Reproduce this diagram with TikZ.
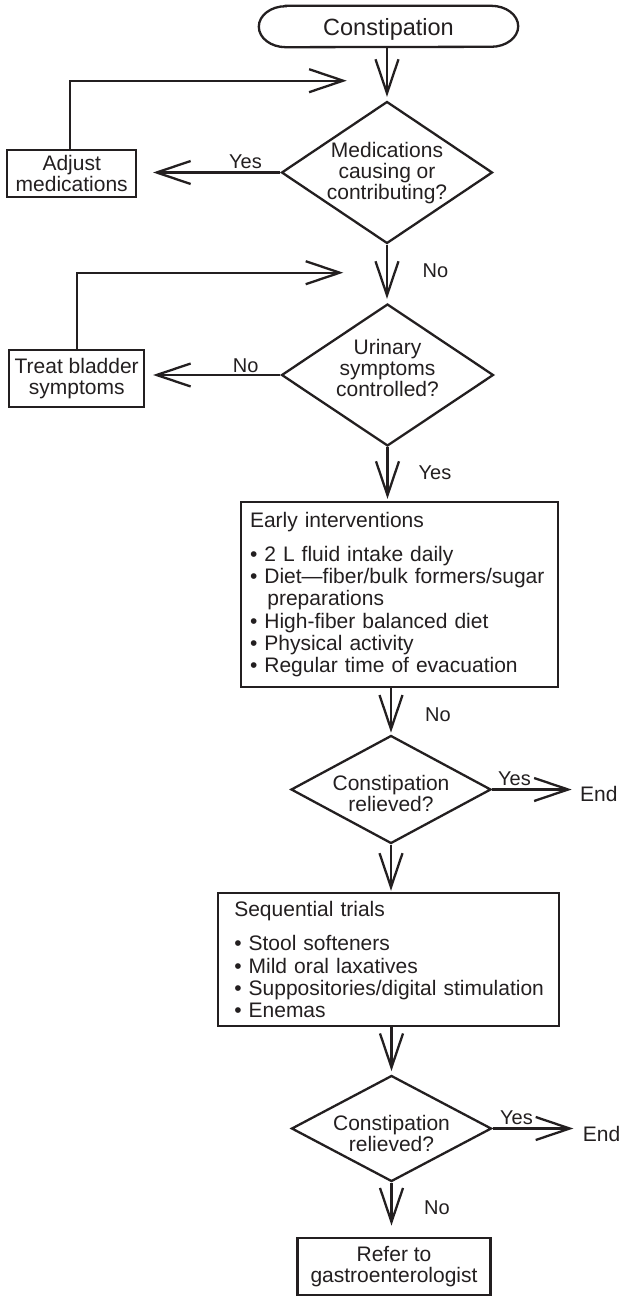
\documentclass[tikz,border=0pt]{standalone}
\usepackage{fontspec}
\setmainfont{Liberation Sans}
\usetikzlibrary{arrows.meta,shapes.geometric}
\definecolor{ink}{RGB}{35,31,32}
% one bulleted line that never breaks
\newcommand{\bulletline}[1]{\mbox{\textbullet\ #1}}

\begin{document}
\begin{tikzpicture}[x=1pt,y=-1pt,
  every node/.style={text=ink},
  line/.style={draw=ink, line width=2.3pt},
  flow/.style={line, -{Straight Barb[length=34pt,width=23pt]}, shorten >=3pt},
  box/.style={line, rectangle, inner sep=0pt, align=center,
    font=\fontsize{21}{21}\selectfont},
  listbox/.style={line, rectangle, align=left, inner ysep=0pt,
    font=\fontsize{21}{22.2}\selectfont},
  decision/.style={line, diamond, inner sep=0pt},
  dtext/.style={font=\fontsize{21}{21}\selectfont, align=center, inner sep=0pt},
  lbl/.style={font=\fontsize{20}{20}\selectfont, inner sep=0pt, anchor=base west},
  endtext/.style={font=\fontsize{21}{21}\selectfont, inner sep=0pt, anchor=base west},
]
\fill[white] (0,0) rectangle (620,1297);
\useasboundingbox (0,0) rectangle (620,1297);

% start terminal
\node[rectangle, minimum width=259pt, minimum height=41pt, inner sep=0pt,
  text depth=0pt, font=\fontsize{23.5}{23.5}\selectfont] (start) at (388.5,26.5) {Constipation};
\draw[line] ([xshift=27pt]start.north west) -- ([xshift=-27pt]start.north east)
  arc[start angle=90,end angle=-90,x radius=27pt,y radius=20.5pt]
  -- ([xshift=27pt]start.south west)
  arc[start angle=270,end angle=90,x radius=27pt,y radius=20.5pt] -- cycle;

% medications decision
\node[decision, minimum width=211pt, minimum height=142pt] (d1) at (387,172.5) {};
\node[dtext, yshift=-1pt] (d1t) at (d1) {Medications\\causing or\\contributing?};
\draw[flow, shorten >=3.5pt] (start.south -| d1.north) -- (d1.north);

\node[box, minimum width=129pt, minimum height=47pt] (adj) at (71.7,173.7) {Adjust\\medications};
\draw[flow, shorten >=15.7pt] (d1.west) -- (d1.west -| adj.east);
\node[lbl] (yes1) at (229,168.5) {Yes};
\coordinate (fb1) at (346.7,80.7);
\draw[flow, shorten >=0pt] ([xshift=-1.5pt]adj.north) |- (fb1);

% urinary decision
\node[decision, minimum width=212pt, minimum height=142pt] (d2) at (387.5,375) {};
\node[dtext, yshift=7pt] (d2t) at (d2) {Urinary\\symptoms\\controlled?};
\draw[flow, shorten >=4pt] (d1.south) -- (d1.south |- d2.north);
\node[lbl] (no1) at (422.5,277) {No};

\node[box, minimum width=135pt, minimum height=57pt] (treat) at (76.7,378.3) {Treat bladder\\symptoms};
\draw[flow, shorten >=7.7pt] (d2.west) -- (d2.west -| treat.east);
\node[lbl] (no2) at (232.7,372.5) {No};
\coordinate (fb2) at (343.3,272.7);
\draw[flow, shorten >=0pt] (treat.north) |- (fb2);

% early interventions
\node[listbox, text width=299pt, inner xsep=9pt, minimum height=185pt] (early) at (399.5,594.5) {%
Early interventions\\[11.8pt]
\bulletline{2 L fluid intake daily}\\
\bulletline{Diet—fiber/bulk formers/sugar}\\
\mbox{\phantom{\textbullet\ }\hspace{3pt}preparations}\\
\bulletline{High-fiber balanced diet}\\
\bulletline{Physical activity}\\
\bulletline{Regular time of evacuation}};
\draw[flow, shorten >=2pt] (d2.south) -- (d2.south |- early.north);
\node[lbl] (yes2) at (418.5,479.3) {Yes};

% first relief check
\node[decision, minimum width=200pt, minimum height=108pt] (d3) at (391,789.5) {};
\node[dtext, yshift=-4pt] (d3t) at (d3) {Constipation\\relieved?};
\draw[flow, shorten >=1.7pt] (early.south -| d3.north) -- (d3.north);
\node[lbl] (no3) at (425,721.7) {No};
\node[endtext] (end1) at (580,801.7) {End};
\draw[flow, shorten >=8.3pt] (d3.east) -- (d3.east -| end1.west);
\node[lbl] (yes3) at (498,785.5) {Yes};

% sequential trials
\node[listbox, text width=309pt, inner xsep=16pt, minimum height=133pt] (seq) at (388.8,959.7) {%
Sequential trials\\[11.9pt]
\bulletline{Stool softeners}\\
\bulletline{Mild oral laxatives}\\
\bulletline{Suppositories/digital stimulation}\\
\bulletline{Enemas}};
\draw[flow, shorten >=1.3pt] (d3.south) -- (d3.south |- seq.north);

% second relief check
\node[decision, minimum width=200pt, minimum height=106pt] (d4) at (391.5,1128.5) {};
\node[dtext, yshift=-4.5pt] (d4t) at (d4) {Constipation\\relieved?};
\draw[flow, shorten >=3.3pt] (seq.south -| d4.north) -- (d4.north);
\node[endtext] (end2) at (582.7,1141.7) {End};
\draw[flow, shorten >=9.4pt] (d4.east) -- (d4.east -| end2.west);
\node[lbl] (yes4) at (500,1124.5) {Yes};

% referral
\node[box, minimum width=193pt, minimum height=57pt] (refer) at (394,1266.5) {Refer to\\gastroenterologist};
\draw[flow, shorten >=11.3pt] (d4.south) -- (d4.south |- refer.north);
\node[lbl] (no4) at (424,1214) {No};
\end{tikzpicture}
\end{document}
